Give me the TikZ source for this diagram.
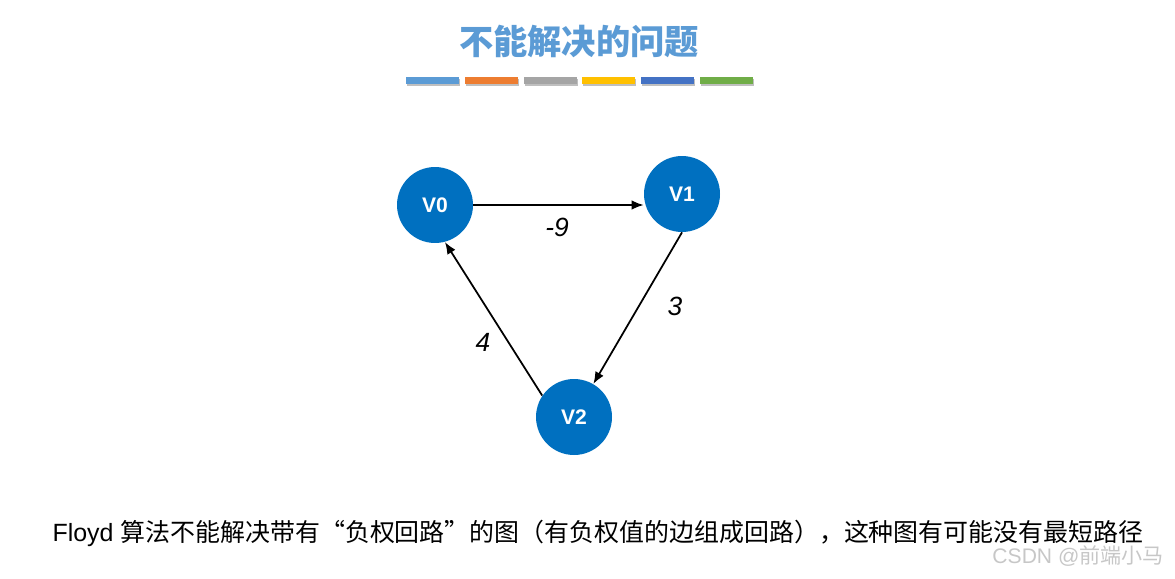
\documentclass[tikz,border=0pt]{standalone}
\usepackage{fontspec}
\setmainfont{Liberation Sans}
\newfontfamily\cjk{Noto Sans CJK SC}
\usetikzlibrary{arrows.meta}
\definecolor{titleblue}{HTML}{5B9BD5}
\definecolor{vblue}{HTML}{0070C0}
\definecolor{barA}{HTML}{5B9BD5}
\definecolor{barB}{HTML}{ED7D31}
\definecolor{barC}{HTML}{A5A5A5}
\definecolor{barD}{HTML}{FFC000}
\definecolor{barE}{HTML}{4472C4}
\definecolor{barF}{HTML}{70AD47}
\begin{document}
\begin{tikzpicture}[x=0.02cm, y=-0.02cm,
    vert/.style={circle, fill=vblue, inner sep=0pt, minimum size=1.52cm,
      text=white, font=\bfseries\fontsize{12pt}{14pt}\selectfont},
    edge/.style={line width=1pt, -{Latex[length=2.4mm, width=1.9mm]}},
    wlabel/.style={font=\itshape\fontsize{15pt}{18pt}\selectfont}]
    \useasboundingbox (0,0) rectangle (1175,578);
    % title and coloured bars
    \node[text=titleblue, font=\cjk\bfseries\fontsize{19.5pt}{22pt}\selectfont] (title) at (579,41){不能解决的问题};
    \foreach \c [count=\i from 0] in {barA,barB,barC,barD,barE,barF}{
      \fill[black!25] (406+58.8*\i+1,79) rectangle (459+58.8*\i+1,86);
      \fill[\c] (406+58.8*\i,77) rectangle (459+58.8*\i,84);
    }
    % the graph
    \node[vert] (v0) at (435,205){V0};
    \node[vert] (v1) at (682,194){V1};
    \node[vert] (v2) at (574,417){V2};
    \draw[edge] (v0) -- (v0 -| v1.west);
    \draw[edge] (v1.south) -- (v2);
    \draw[edge] (v2.146) -- (v0.-75);
    \node[wlabel] (w01) at (557,227){-9};
    \node[wlabel] (w12) at (675,306){3};
    \node[wlabel] (w20) at (483,342){4};
    % caption
    \node[font=\fontsize{14.2pt}{17pt}\selectfont] (cap) at (598,533){Floyd {\cjk 算法不能解决带有“负权回路”的图（有负权值的边组成回路），这种图有可能没有最短路径}};
    \node[text=black!22, font=\fontsize{12pt}{14pt}\selectfont, anchor=east] (mark) at (1170,556){CSDN @{\cjk 前端小马}};
\end{tikzpicture}
\end{document}
